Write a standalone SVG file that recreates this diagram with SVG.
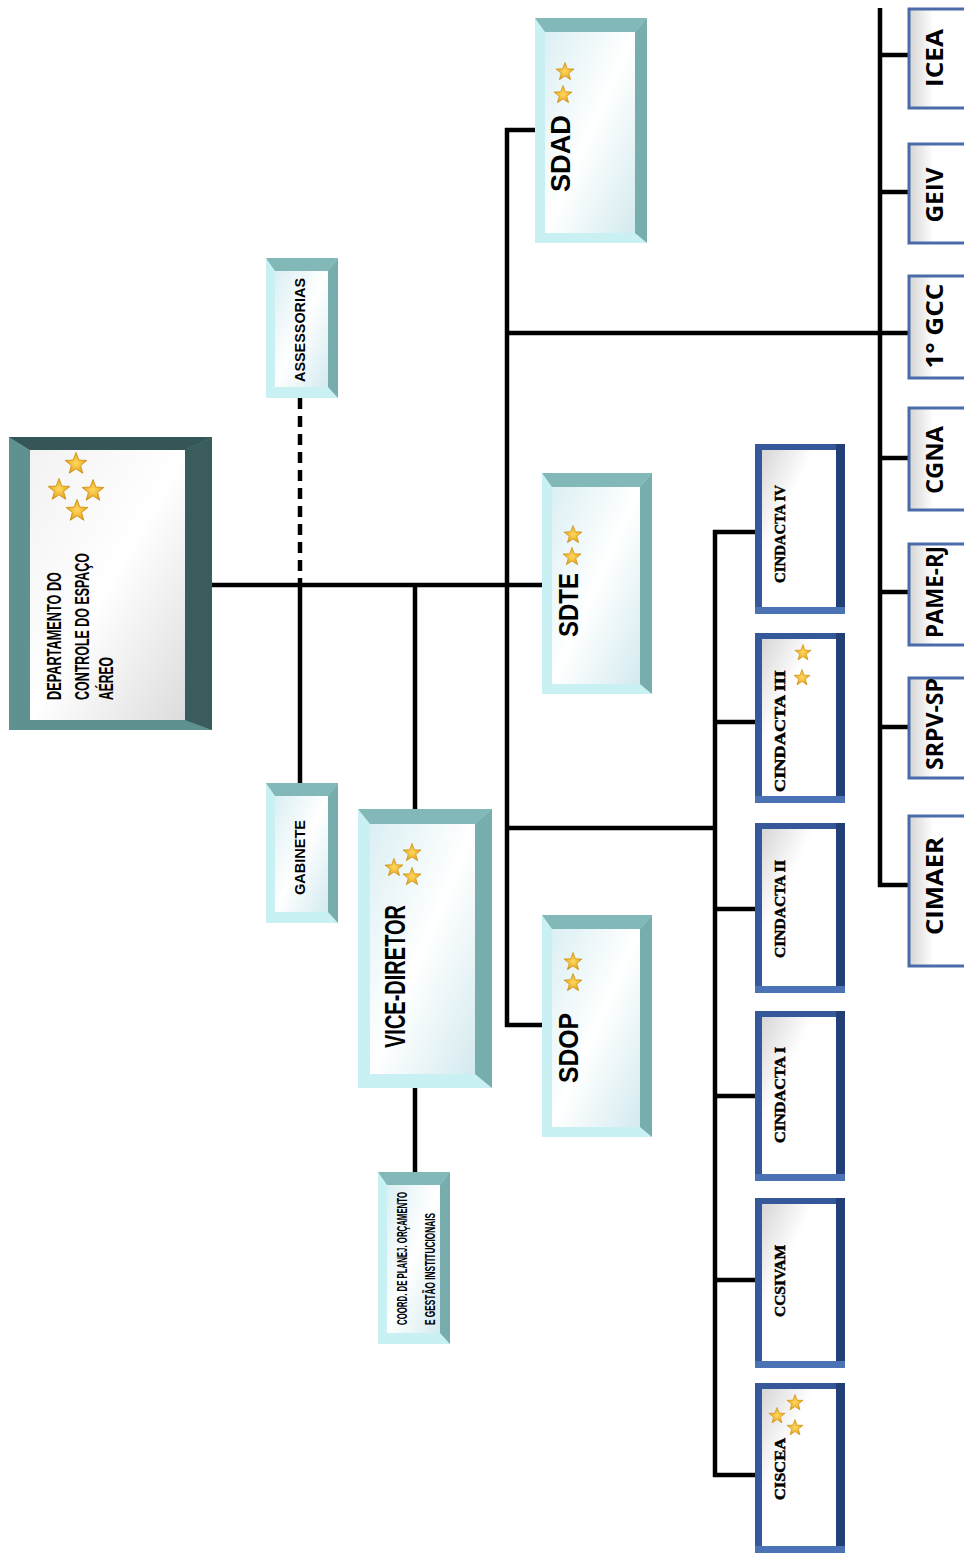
<svg xmlns="http://www.w3.org/2000/svg" xmlns:xlink="http://www.w3.org/1999/xlink" width="964" height="1554" viewBox="0 0 964 1554">
<style>
.ln{stroke:#000;stroke-width:4.5;fill:none}
.tl{fill:#c9f1f4}
.tt{fill:#83b8b8}
.tr{fill:#77adad}
.ti{fill:url(#tgrad)}
.cn{font-family:"Liberation Sans",Arial,sans-serif;font-weight:bold;fill:#000}
.sf{font-family:"Liberation Serif","Times New Roman",serif;font-weight:bold;fill:#000;stroke:#000;stroke-width:0.5}
.cal{font-family:"Open Sans","Noto Sans",sans-serif;font-weight:bold;fill:#000}
.rb{fill:url(#rgrad);stroke:#4a6aaa;stroke-width:3}
</style>
<defs>
<linearGradient id="tgrad" x1="0" y1="0" x2="1" y2="1">
<stop offset="0" stop-color="#dbeff3"/>
<stop offset="0.5" stop-color="#ffffff"/>
<stop offset="1" stop-color="#d3eaef"/>
</linearGradient>
<linearGradient id="mgrad" x1="0" y1="0" x2="1" y2="1">
<stop offset="0" stop-color="#f2f2f2"/>
<stop offset="0.5" stop-color="#ffffff"/>
<stop offset="1" stop-color="#dcdcdc"/>
</linearGradient>
<linearGradient id="bgrad" x1="0" y1="0" x2="1" y2="1">
<stop offset="0" stop-color="#d6d6d6"/>
<stop offset="0.35" stop-color="#ffffff"/>
<stop offset="1" stop-color="#ffffff"/>
</linearGradient>
<linearGradient id="rgrad" x1="0" y1="0" x2="1" y2="0">
<stop offset="0" stop-color="#d4d4d4"/>
<stop offset="0.35" stop-color="#ffffff"/>
<stop offset="1" stop-color="#ffffff"/>
</linearGradient>
<radialGradient id="gold" cx="0.5" cy="0.5" r="0.6">
<stop offset="0" stop-color="#ffd960"/>
<stop offset="0.6" stop-color="#eeb12e"/>
<stop offset="1" stop-color="#c08515"/>
</radialGradient>
<path id="star" d="M0,-10 L2.47,-3.4 L9.51,-3.09 L4,1.3 L5.88,8.09 L0,4.2 L-5.88,8.09 L-4,1.3 L-9.51,-3.09 L-2.47,-3.4 Z" fill="url(#gold)" stroke="#d09518" stroke-width="0.8"/>
<g id="bbox">
<rect x="0" y="0" width="90" height="170" fill="#34589a"/>
<rect x="81" y="0" width="9" height="170" fill="#223f78"/>
<rect x="0" y="163" width="90" height="7" fill="#4a72b4"/>
<rect x="7" y="6" width="74" height="157" fill="url(#bgrad)"/>
</g>
</defs>
<rect width="964" height="1554" fill="#ffffff"/>

<g id="connectors">
<line class="ln" x1="212" y1="585" x2="542" y2="585"/>
<line class="ln" x1="507" y1="128" x2="507" y2="1027"/>
<line class="ln" x1="505" y1="130" x2="535" y2="130"/>
<line class="ln" x1="505" y1="1025" x2="542" y2="1025"/>
<line class="ln" x1="507" y1="333" x2="880" y2="333"/>
<line class="ln" x1="507" y1="828" x2="715" y2="828"/>
<line class="ln" x1="300" y1="398" x2="300" y2="585" stroke-dasharray="11,7"/>
<line class="ln" x1="300" y1="585" x2="300" y2="783"/>
<line class="ln" x1="415" y1="585" x2="415" y2="809"/>
<line class="ln" x1="415" y1="1088" x2="415" y2="1172"/>
<line class="ln" x1="715" y1="530" x2="715" y2="1477"/>
<line class="ln" x1="713" y1="532" x2="755" y2="532"/>
<line class="ln" x1="715" y1="722" x2="755" y2="722"/>
<line class="ln" x1="715" y1="909" x2="755" y2="909"/>
<line class="ln" x1="715" y1="1096" x2="755" y2="1096"/>
<line class="ln" x1="715" y1="1280" x2="755" y2="1280"/>
<line class="ln" x1="713" y1="1475" x2="755" y2="1475"/>
<line class="ln" x1="880" y1="8" x2="880" y2="887"/>
<line class="ln" x1="880" y1="55" x2="908" y2="55"/>
<line class="ln" x1="880" y1="192" x2="908" y2="192"/>
<line class="ln" x1="880" y1="333" x2="908" y2="333"/>
<line class="ln" x1="880" y1="458" x2="908" y2="458"/>
<line class="ln" x1="880" y1="592" x2="908" y2="592"/>
<line class="ln" x1="880" y1="727" x2="908" y2="727"/>
<line class="ln" x1="878" y1="885" x2="908" y2="885"/>
</g>

<g id="departamento">
<rect x="9" y="437" width="203" height="293" fill="#5f9191"/>
<polygon points="9,437 212,437 185,450 30,450" fill="#355656"/>
<polygon points="212,437 212,730 185,720 185,450" fill="#3a5c5c"/>
<rect x="30" y="450" width="155" height="270" fill="url(#mgrad)"/>
<use href="#star" transform="translate(76,464) scale(1.15)"/>
<use href="#star" transform="translate(59,490) scale(1.15)"/>
<use href="#star" transform="translate(93,491) scale(1.15)"/>
<use href="#star" transform="translate(77,511) scale(1.15)"/>
<text class="cn" font-size="20" transform="translate(61,700) rotate(-90)" textLength="128" lengthAdjust="spacingAndGlyphs">DEPARTAMENTO DO</text>
<text class="cn" font-size="20" transform="translate(89,700) rotate(-90)" textLength="147" lengthAdjust="spacingAndGlyphs">CONTROLE DO ESPAÇO</text>
<text class="cn" font-size="20" transform="translate(113,700) rotate(-90)" textLength="43" lengthAdjust="spacingAndGlyphs">AÉREO</text>
</g>

<g id="assessorias">
<rect class="tl" x="266" y="258" width="72" height="140"/>
<polygon class="tt" points="266,258 338,258 328,271 275,271"/>
<polygon class="tr" points="338,258 338,398 328,387 328,271"/>
<rect class="ti" x="275" y="271" width="53" height="116"/>
<text class="cn" font-size="15" transform="translate(305,382) rotate(-90)" textLength="104" lengthAdjust="spacingAndGlyphs">ASSESSORIAS</text>
</g>

<g id="gabinete">
<rect class="tl" x="266" y="783" width="72" height="140"/>
<polygon class="tt" points="266,783 338,783 328,796 275,796"/>
<polygon class="tr" points="338,783 338,923 328,912 328,796"/>
<rect class="ti" x="275" y="796" width="53" height="116"/>
<text class="cn" font-size="15" transform="translate(305,895) rotate(-90)" textLength="75" lengthAdjust="spacingAndGlyphs">GABINETE</text>
</g>

<g id="vice-diretor">
<rect class="tl" x="358" y="809" width="134" height="279"/>
<polygon class="tt" points="358,809 492,809 475,824 370,824"/>
<polygon class="tr" points="492,809 492,1088 475,1074 475,824"/>
<rect class="ti" x="370" y="824" width="105" height="250"/>
<use href="#star" transform="translate(412,853) scale(0.95)"/>
<use href="#star" transform="translate(394,868) scale(0.95)"/>
<use href="#star" transform="translate(412,877) scale(0.95)"/>
<text class="cn" font-size="29" transform="translate(405,1048) rotate(-90)" textLength="143" lengthAdjust="spacingAndGlyphs">VICE-DIRETOR</text>
</g>

<g id="coord">
<rect class="tl" x="378" y="1172" width="72" height="172"/>
<polygon class="tt" points="378,1172 450,1172 440,1185 387,1185"/>
<polygon class="tr" points="450,1172 450,1344 440,1333 440,1185"/>
<rect class="ti" x="387" y="1185" width="53" height="148"/>
<text class="cn" font-size="15" transform="translate(407,1325) rotate(-90)" textLength="133" lengthAdjust="spacingAndGlyphs">COORD. DE PLANEJ. ORÇAMENTO</text>
<text class="cn" font-size="15" transform="translate(435,1325) rotate(-90)" textLength="112" lengthAdjust="spacingAndGlyphs">E GESTÃO INSTITUCIONAIS</text>
</g>

<g id="sdad">
<rect class="tl" x="535" y="18" width="112" height="225"/>
<polygon class="tt" points="535,18 647,18 635,32 545,32"/>
<polygon class="tr" points="647,18 647,243 635,233 635,32"/>
<rect class="ti" x="545" y="32" width="90" height="201"/>
<use href="#star" transform="translate(565,72) scale(0.95)"/>
<use href="#star" transform="translate(563,95) scale(0.95)"/>
<text class="cn" font-size="27" transform="translate(570,192) rotate(-90)" textLength="77" lengthAdjust="spacingAndGlyphs">SDAD</text>
</g>

<g id="sdte">
<rect class="tl" x="542" y="473" width="110" height="221"/>
<polygon class="tt" points="542,473 652,473 640,487 552,487"/>
<polygon class="tr" points="652,473 652,694 640,684 640,487"/>
<rect class="ti" x="552" y="487" width="88" height="197"/>
<use href="#star" transform="translate(573,535) scale(0.95)"/>
<use href="#star" transform="translate(572,557) scale(0.95)"/>
<text class="cn" font-size="27" transform="translate(578,637) rotate(-90)" textLength="64" lengthAdjust="spacingAndGlyphs">SDTE</text>
</g>

<g id="sdop">
<rect class="tl" x="542" y="915" width="110" height="222"/>
<polygon class="tt" points="542,915 652,915 640,929 552,929"/>
<polygon class="tr" points="652,915 652,1137 640,1127 640,929"/>
<rect class="ti" x="552" y="929" width="88" height="198"/>
<use href="#star" transform="translate(573,962) scale(0.95)"/>
<use href="#star" transform="translate(573,983) scale(0.95)"/>
<text class="cn" font-size="27" transform="translate(578,1083) rotate(-90)" textLength="70" lengthAdjust="spacingAndGlyphs">SDOP</text>
</g>

<g id="cindacta-iv">
<use href="#bbox" x="755" y="444"/>
<text class="sf" font-size="15" transform="translate(785,583) rotate(-90)" textLength="98" lengthAdjust="spacingAndGlyphs">CINDACTA IV</text>
</g>
<g id="cindacta-iii">
<use href="#bbox" x="755" y="633"/>
<use href="#star" transform="translate(803,653) scale(0.85)"/>
<use href="#star" transform="translate(802,678) scale(0.85)"/>
<text class="sf" font-size="15" transform="translate(785,792) rotate(-90)" textLength="122" lengthAdjust="spacingAndGlyphs">CINDACTA III</text>
</g>
<g id="cindacta-ii">
<use href="#bbox" x="755" y="823"/>
<text class="sf" font-size="15" transform="translate(785,958) rotate(-90)" textLength="98" lengthAdjust="spacingAndGlyphs">CINDACTA II</text>
</g>
<g id="cindacta-i">
<use href="#bbox" x="755" y="1011"/>
<text class="sf" font-size="15" transform="translate(785,1143) rotate(-90)" textLength="96" lengthAdjust="spacingAndGlyphs">CINDACTA I</text>
</g>
<g id="ccsivam">
<use href="#bbox" x="755" y="1198"/>
<text class="sf" font-size="15" transform="translate(785,1317) rotate(-90)" textLength="72" lengthAdjust="spacingAndGlyphs">CCSIVAM</text>
</g>
<g id="ciscea">
<use href="#bbox" x="755" y="1383"/>
<use href="#star" transform="translate(795,1403) scale(0.85)"/>
<use href="#star" transform="translate(777,1416) scale(0.85)"/>
<use href="#star" transform="translate(795,1428) scale(0.85)"/>
<text class="sf" font-size="15" transform="translate(785,1500) rotate(-90)" textLength="62" lengthAdjust="spacingAndGlyphs">CISCEA</text>
</g>

<g id="icea">
<rect class="rb" x="909" y="9" width="70" height="99"/>
<text class="cal" font-size="23" text-anchor="middle" transform="translate(943,58) rotate(-90)" textLength="58" lengthAdjust="spacingAndGlyphs">ICEA</text>
</g>
<g id="geiv">
<rect class="rb" x="909" y="144" width="70" height="99"/>
<text class="cal" font-size="23" text-anchor="middle" transform="translate(943,195) rotate(-90)" textLength="55" lengthAdjust="spacingAndGlyphs">GEIV</text>
</g>
<g id="gcc">
<rect class="rb" x="909" y="276" width="70" height="102"/>
<text class="cal" font-size="23" text-anchor="middle" transform="translate(943,326) rotate(-90)" textLength="85" lengthAdjust="spacingAndGlyphs">1° GCC</text>
</g>
<g id="cgna">
<rect class="rb" x="909" y="408" width="70" height="102"/>
<text class="cal" font-size="23" text-anchor="middle" transform="translate(943,460) rotate(-90)" textLength="68" lengthAdjust="spacingAndGlyphs">CGNA</text>
</g>
<g id="pame-rj">
<rect class="rb" x="909" y="544" width="70" height="101"/>
<text class="cal" font-size="23" text-anchor="middle" transform="translate(943,592) rotate(-90)" textLength="92" lengthAdjust="spacingAndGlyphs">PAME-RJ</text>
</g>
<g id="srpv-sp">
<rect class="rb" x="909" y="678" width="70" height="100"/>
<text class="cal" font-size="23" text-anchor="middle" transform="translate(943,724) rotate(-90)" textLength="92" lengthAdjust="spacingAndGlyphs">SRPV-SP</text>
</g>
<g id="cimaer">
<rect class="rb" x="909" y="816" width="70" height="150"/>
<text class="cal" font-size="23" text-anchor="middle" transform="translate(943,886) rotate(-90)" textLength="98" lengthAdjust="spacingAndGlyphs">CIMAER</text>
</g>
</svg>
